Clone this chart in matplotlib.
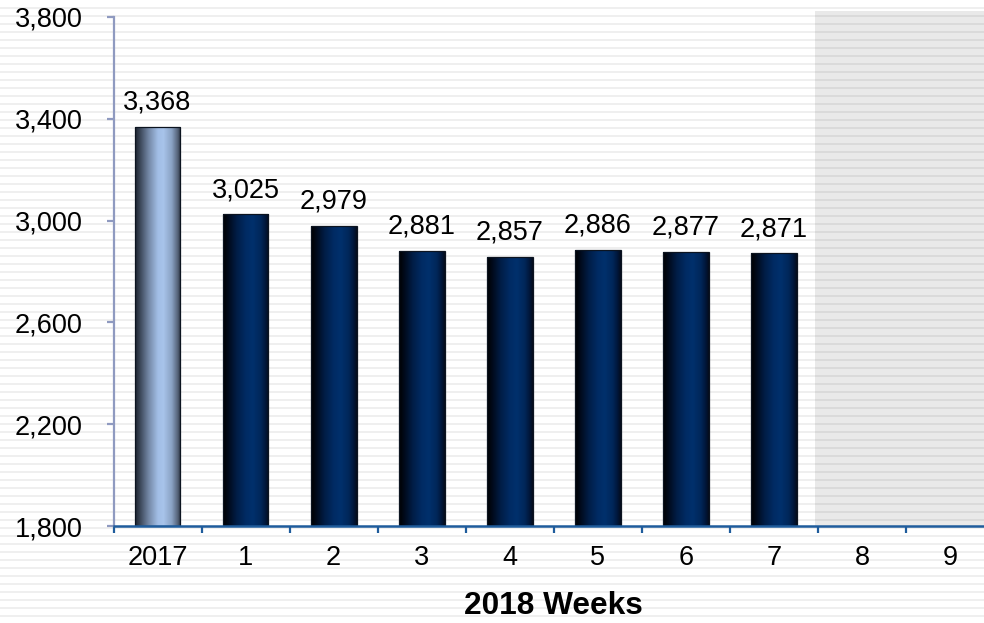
import numpy as np
import matplotlib
matplotlib.use("Agg")
import matplotlib.pyplot as plt
from matplotlib.colors import to_rgb

plt.rcParams['font.family'] = ['Liberation Sans', 'DejaVu Sans']

# ---- data ----
categories = ["2017", "1", "2", "3", "4", "5", "6", "7", "8", "9"]
values = [3368, 3025, 2979, 2881, 2857, 2886, 2877, 2871]
value_labels = ["3,368", "3,025", "2,979", "2,881", "2,857", "2,886", "2,877", "2,871"]
y_ticks = [1800, 2200, 2600, 3000, 3400, 3800]
y_tick_labels = ["1,800", "2,200", "2,600", "3,000", "3,400", "3,800"]
x_title = "2018 Weeks"
future_start = 7.47   # start of the grey (future weeks) area

W, H, DPI = 984, 623, 100
fig = plt.figure(figsize=(W / DPI, H / DPI), dpi=DPI)
fig.patch.set_facecolor("white")

# ---- striped background (pixel coordinates) ----
bg = fig.add_axes([0, 0, 1, 1], zorder=-5)
bg.set_xlim(0, W)
bg.set_ylim(H, 0)
bg.axis("off")
for y0 in np.arange(7, H, 8):
    bg.axhspan(y0, y0 + 2, color="#efefef", lw=0)

# ---- main axes ----
left_px, right_px, top_px, bottom_px = 113.5, 994, 11, 526
ax = fig.add_axes([left_px / W, (H - bottom_px) / H,
                   (right_px - left_px) / W, (bottom_px - top_px) / H])
ax.set_facecolor("none")
ymin = 1800
ymax = 1800 + 2000 * (bottom_px - top_px) / (526 - 17)
ax.set_xlim(-0.5, len(categories) - 0.5)
ax.set_ylim(ymin, ymax)

# grey area for future weeks
ax.axvspan(future_start, len(categories), color="black", alpha=0.085, lw=0, zorder=0)


def gradient(stops, n=256):
    pos = np.array([s[0] for s in stops])
    cols = np.array([to_rgb(s[1]) for s in stops])
    t = np.linspace(0, 1, n)
    arr = np.stack([np.interp(t, pos, cols[:, k]) for k in range(3)], axis=-1)
    return arr[np.newaxis, :, :]


light_grad = gradient([(0.0, "#1c222e"), (0.12, "#3e4a5c"), (0.3, "#7488a6"),
                       (0.5, "#a2bee6"), (0.62, "#a8c4ea"), (0.8, "#8aa2c4"),
                       (0.93, "#56647a"), (1.0, "#2a3240")])
dark_grad = gradient([(0.0, "#000000"), (0.12, "#000a1c"), (0.3, "#001d46"),
                      (0.5, "#002b64"), (0.65, "#00306c"), (0.82, "#00275a"),
                      (0.93, "#00163a"), (1.0, "#050c1a")])

bar_w = 0.52
xs = np.arange(len(values))
bars = ax.bar(xs, np.array(values) - ymin, bottom=ymin, width=bar_w,
              facecolor="none", edgecolor="#0c1420", linewidth=0.9, zorder=3)
for i, (b, v) in enumerate(zip(bars, values)):
    grad = light_grad if i == 0 else dark_grad
    im = ax.imshow(grad, extent=(b.get_x(), b.get_x() + b.get_width(), ymin, v),
                   aspect="auto", zorder=2, interpolation="bilinear")
    im.set_clip_path(b)
    ax.annotate(value_labels[i], (b.get_x() + b.get_width() / 2, v),
                xytext=(0, 8), textcoords="offset points",
                ha="center", va="bottom", fontsize=19.5, color="black")

ax.set_xlim(-0.5, len(categories) - 0.5)
ax.set_ylim(ymin, ymax)

# ---- spines / ticks ----
for s in ["top", "right"]:
    ax.spines[s].set_visible(False)
ax.spines["left"].set_color("#8f9ac0")
ax.spines["left"].set_linewidth(1.6)
ax.spines["left"].set_bounds(1800, 3800)
ax.spines["bottom"].set_color("#1f5c9c")
ax.spines["bottom"].set_linewidth(1.8)
ax.spines["left"].set_zorder(4)
ax.spines["bottom"].set_zorder(4)

ax.set_yticks(y_ticks)
ax.set_yticklabels(y_tick_labels)
ax.tick_params(axis="y", length=5, width=1.6, color="#8f9ac0", pad=17,
               labelsize=19.5, labelcolor="black")

ax.set_xticks(np.arange(len(categories)))
ax.set_xticklabels(categories)
ax.set_xticks(np.arange(len(categories) + 1) - 0.5, minor=True)
ax.tick_params(axis="x", which="major", length=0, pad=14, labelsize=19.5,
               labelcolor="black")
ax.tick_params(axis="x", which="minor", length=5, width=1.6, color="#1f5c9c")

fig.text((left_px + right_px) / 2 / W, 1 - 606 / H, x_title, ha="center",
         va="center", fontsize=22.8, fontweight="bold", color="black")

fig.savefig("out.png", dpi=DPI, facecolor="white")
